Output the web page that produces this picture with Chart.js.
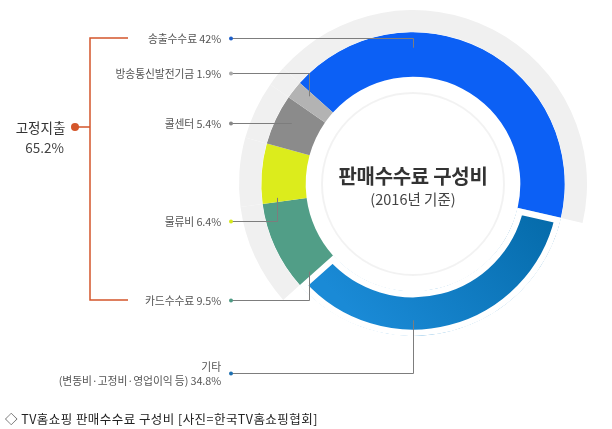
<!DOCTYPE html>
<html><head><meta charset="utf-8">
<script src="https://cdn.jsdelivr.net/npm/chart.js@4.4.1/dist/chart.umd.min.js"></script>
<style>
html,body{margin:0;padding:0;background:#fff;}
#wrap{position:relative;width:612px;height:429px;overflow:hidden;font-family:"Noto Sans CJK KR","Noto Sans",sans-serif;}
#c{position:absolute;left:0;top:0;}
.t{position:absolute;white-space:nowrap;transform:translateY(-50%);}
.lbl{right:391px;text-align:right;font-size:10.8px;color:#555;line-height:14px;letter-spacing:-0.1px;}
</style></head>
<body><div id="wrap"><canvas id="c" width="612" height="429"></canvas></div>
<script>
// ---- data ----
const categories = ['송출수수료', '기타', '카드수수료', '물류비', '콜센터', '방송통신발전기금'];
const shares = [42, 34.8, 9.5, 6.4, 5.4, 1.9];
const notes = ['', '(변동비·고정비·영업이익 등)', '', '', '', ''];
const isFixedCost = [true, false, true, true, true, true];
const titleText = '판매수수료 구성비';
const subtitleText = '(2016년 기준)';
const groupText = '고정지출';
const captionText = '◇ TV홈쇼핑 판매수수료 구성비 [사진=한국TV홈쇼핑협회]';

// ---- styles / layout ----
const segColors = ['#0c60f5', null, '#519e87', '#dcec1c', '#8b8b8b', '#b3b3b3'];
const dotColors = ['#1d5fc8', '#1d6fb0', '#4e9a84', '#d6e81c', '#888888', '#aaaaaa'];
const bgRing = '#f0f0f0';
const labelY = [38, 373, 300, 221, 123, 73];
const dotX = 231;
const bracketColor = '#d4562b';

const fixedTotal = shares.reduce((s, v, i) => s + (isFixedCost[i] ? v : 0), 0);
const leftSmall = shares.reduce((s, v, i) => s + (isFixedCost[i] && i !== 0 ? v : 0), 0);
const rotation = 270 + leftSmall * 3.6 / 2 - 360;

function etcGradient(ctx) {
  const chart = ctx.chart, a = chart.chartArea;
  if (!a) return '#0a70b6';
  const cx = (a.left + a.right) / 2, cy = (a.top + a.bottom) / 2;
  const g = chart.ctx.createLinearGradient(cx + 150, cy - 30, cx - 40, cy + 150);
  g.addColorStop(0, '#00639f');
  g.addColorStop(1, '#1a8ad6');
  return g;
}

const decor = {
  id: 'decor',
  beforeDatasetsDraw(chart) {
    const ctx = chart.ctx;
    const arc = chart.getDatasetMeta(1).data[0];
    const {x, y} = arc.getProps(['x', 'y'], true);
    ctx.save();
    ctx.beginPath();
    ctx.arc(x, y, 91, 0, Math.PI * 2);
    ctx.strokeStyle = 'rgba(0,0,0,0.05)';
    ctx.lineWidth = 2;
    ctx.shadowColor = 'rgba(0,0,0,0.08)';
    ctx.shadowBlur = 5;
    ctx.stroke();
    ctx.restore();
  },
  afterDraw(chart) {
    const ctx = chart.ctx;
    const meta = chart.getDatasetMeta(1);
    ctx.save();
    meta.data.forEach((arc, i) => {
      const p = arc.getProps(['x', 'y', 'startAngle', 'endAngle', 'innerRadius', 'outerRadius'], true);
      const r = p.innerRadius + 0.65 * (p.outerRadius - p.innerRadius);
      const ly = labelY[i];
      const s = Math.max(-1, Math.min(1, (ly - p.y) / r));
      const a = Math.PI - Math.asin(s);
      const m = Math.min(0.03, (p.endAngle - p.startAngle) / 4);
      const lo = p.startAngle + m, hi = p.endAngle - m;
      let best = a, bestD = Infinity;
      for (const k of [-2, -1, 0, 1, 2]) {
        const c = a + k * 2 * Math.PI;
        const cl = Math.min(hi, Math.max(lo, c));
        const d = Math.abs(cl - c);
        if (d < bestD) { bestD = d; best = cl; }
      }
      const px = p.x + r * Math.cos(best), py = p.y + r * Math.sin(best);
      ctx.beginPath();
      ctx.moveTo(dotX, ly + 0.5);
      ctx.lineTo(Math.round(px) + 0.5, ly + 0.5);
      ctx.lineTo(Math.round(px) + 0.5, py);
      ctx.strokeStyle = '#7d7d7d';
      ctx.lineWidth = 1;
      ctx.stroke();
      ctx.beginPath();
      ctx.arc(dotX, ly + 0.5, 2, 0, Math.PI * 2);
      ctx.fillStyle = dotColors[i];
      ctx.fill();
    });
    // bracket for fixed costs
    const top = labelY[0], bot = labelY[2], mid = 127;
    ctx.beginPath();
    ctx.moveTo(128, top); ctx.lineTo(90, top); ctx.lineTo(90, bot); ctx.lineTo(128, bot);
    ctx.moveTo(75, mid); ctx.lineTo(90, mid);
    ctx.strokeStyle = bracketColor;
    ctx.lineWidth = 1.5;
    ctx.stroke();
    ctx.beginPath();
    ctx.arc(75, mid, 4, 0, Math.PI * 2);
    ctx.fillStyle = bracketColor;
    ctx.fill();
    ctx.restore();
  }
};

new Chart(document.getElementById('c'), {
  type: 'doughnut',
  data: {
    labels: categories,
    datasets: [
      {
        data: shares,
        backgroundColor: shares.map((v, i) => isFixedCost[i] ? bgRing : 'rgba(0,0,0,0)'),
        borderWidth: 0, hoverBorderWidth: 0, weight: 22
      },
      {
        data: shares,
        backgroundColor: (ctx) => segColors[ctx.dataIndex] || etcGradient(ctx),
        borderWidth: shares.map((v, i) => isFixedCost[i] ? 0 : 6),
        borderColor: '#ffffff',
        borderAlign: 'inner',
        hoverBorderWidth: 0, weight: 45
      }
    ]
  },
  options: {
    responsive: false,
    animation: false,
    events: [],
    devicePixelRatio: 1,
    rotation: rotation,
    cutout: '61.5%',
    layout: {padding: {left: 239, top: 10, right: 25, bottom: 71}},
    plugins: {legend: {display: false}, tooltip: {enabled: false}}
  },
  plugins: [decor]
});

// ---- text ----
const wrap = document.getElementById('wrap');
function addText(html, css, cls) {
  const d = document.createElement('div');
  d.className = 't ' + (cls || '');
  d.innerHTML = html;
  d.style.cssText += css;
  wrap.appendChild(d);
  return d;
}
categories.forEach((name, i) => {
  const val = shares[i] + '%';
  if (notes[i]) {
    addText(name + '<br>' + notes[i] + ' ' + val, 'top:' + labelY[i] + 'px;', 'lbl');
  } else {
    addText(name + ' ' + val, 'top:' + labelY[i] + 'px;', 'lbl');
  }
});
addText(titleText, 'left:313px;width:200px;text-align:center;top:175px;font-size:20px;font-weight:700;color:#333;letter-spacing:-0.3px;');
addText(subtitleText, 'left:313px;width:200px;text-align:center;top:198px;font-size:14.5px;color:#444;');
addText(groupText, 'left:0px;width:81px;text-align:center;top:127px;font-size:13.5px;color:#333;');
addText(fixedTotal.toFixed(1) + '%', 'left:4px;width:81px;text-align:center;top:147px;font-size:13.5px;color:#444;');
addText(captionText, 'left:5px;top:418px;font-size:12.5px;color:#222;letter-spacing:0.45px;');
</script>
</body></html>
